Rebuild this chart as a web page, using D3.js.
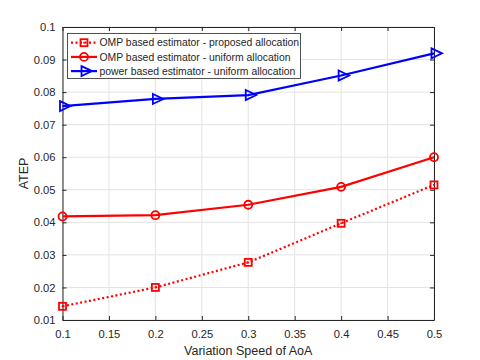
<!DOCTYPE html>
<html>
<head>
<meta charset="utf-8">
<script src="https://cdn.jsdelivr.net/npm/d3@7"></script>
<style>
  body { margin: 0; background: #fff; }
  svg { display: block; font-family: "Liberation Sans", Arial, sans-serif; }
</style>
</head>
<body>
<div id="chart"></div>
<script>
// data
const speeds = [0.1, 0.2, 0.3, 0.4, 0.5];
const ompProposed = [0.0142, 0.0200, 0.0277, 0.0397, 0.0515];
const ompUniform = [0.0418, 0.0422, 0.0454, 0.0509, 0.0600];
const powerUniform = [0.0757, 0.0779, 0.0791, 0.0851, 0.0919];
const xTicks = [0.1, 0.15, 0.2, 0.25, 0.3, 0.35, 0.4, 0.45, 0.5];
const yTicks = [0.01, 0.02, 0.03, 0.04, 0.05, 0.06, 0.07, 0.08, 0.09, 0.1];
const legendLabels = [
    "OMP based estimator - proposed allocation",
    "OMP based estimator - uniform allocation",
    "power based estimator - uniform allocation"
];

const width = 480, height = 360;
const margin = { left: 62.5, right: 46, top: 27, bottom: 40 };

const svg = d3.select("#chart").append("svg")
    .attr("width", width)
    .attr("height", height);

const x = d3.scaleLinear().domain([0.1, 0.5]).range([margin.left, width - margin.right]);
const y = d3.scaleLinear().domain([0.01, 0.1]).range([height - margin.bottom, margin.top]);

const axisColor = "#262626";

// grid
const grid = svg.append("g");
grid.selectAll(".gx").data(xTicks).enter().append("line")
    .attr("x1", d => x(d)).attr("x2", d => x(d))
    .attr("y1", y(0.01)).attr("y2", y(0.1))
    .attr("stroke", "#e3e3e3").attr("stroke-width", 1);
grid.selectAll(".gy").data(yTicks).enter().append("line")
    .attr("y1", d => y(d)).attr("y2", d => y(d))
    .attr("x1", x(0.1)).attr("x2", x(0.5))
    .attr("stroke", "#e3e3e3").attr("stroke-width", 1);

// axes (ticks inward, box on all sides)
const fmt = d => String(+d.toFixed(2));
const axBottom = svg.append("g").attr("transform", `translate(0,${y(0.01)})`)
    .call(d3.axisBottom(x).tickValues(xTicks).tickFormat(fmt).tickSizeInner(-4).tickSizeOuter(0).tickPadding(10));
const axLeft = svg.append("g").attr("transform", `translate(${x(0.1)},0)`)
    .call(d3.axisLeft(y).tickValues(yTicks).tickFormat(fmt).tickSizeInner(-4).tickSizeOuter(0).tickPadding(7));
const axTop = svg.append("g").attr("transform", `translate(0,${y(0.1)})`)
    .call(d3.axisTop(x).tickValues(xTicks).tickFormat("").tickSizeInner(-4).tickSizeOuter(0));
const axRight = svg.append("g").attr("transform", `translate(${x(0.5)},0)`)
    .call(d3.axisRight(y).tickValues(yTicks).tickFormat("").tickSizeInner(-4).tickSizeOuter(0));

[axBottom, axLeft, axTop, axRight].forEach(g => {
    g.select(".domain").attr("stroke", axisColor).attr("stroke-width", 1);
    g.selectAll(".tick line").attr("stroke", axisColor);
    g.selectAll("text").attr("fill", axisColor)
        .style("font-family", "'Liberation Sans', Arial, sans-serif").style("font-size", "11.2px");
});

svg.append("text")
    .attr("x", (x(0.1) + x(0.5)) / 2).attr("y", 355)
    .attr("text-anchor", "middle").attr("fill", axisColor)
    .style("font-size", "12.5px").text("Variation Speed of AoA");
svg.append("text")
    .attr("transform", `translate(28,${(y(0.01) + y(0.1)) / 2}) rotate(-90)`)
    .attr("text-anchor", "middle").attr("fill", axisColor)
    .style("font-size", "12.5px").text("ATEP");

// series
const series = [
    { values: ompProposed, color: "#ff0000", dash: "2,2.5", marker: "square" },
    { values: ompUniform, color: "#ff0000", dash: null, marker: "circle" },
    { values: powerUniform, color: "#0000ff", dash: null, marker: "triangle" }
];

function drawMarker(g, type, color) {
    if (type === "square") {
        g.append("rect").attr("x", -3.5).attr("y", -3.5).attr("width", 7).attr("height", 7)
            .attr("fill", "none").attr("stroke", color).attr("stroke-width", 1.8);
        g.append("rect").attr("x", -0.8).attr("y", -0.8).attr("width", 1.6).attr("height", 1.6)
            .attr("fill", color);
    } else if (type === "circle") {
        g.append("circle").attr("r", 4).attr("fill", "none").attr("stroke", color).attr("stroke-width", 1.8);
    } else {
        g.append("path").attr("d", "M-2.5,-5L8,0L-2.5,5Z")
            .attr("fill", "none").attr("stroke", color).attr("stroke-width", 1.8);
    }
}

const line = d3.line().x((d, i) => x(speeds[i])).y(d => y(d));

series.forEach(s => {
    svg.append("path").datum(s.values)
        .attr("d", line)
        .attr("fill", "none")
        .attr("stroke", s.color)
        .attr("stroke-width", 2.2)
        .attr("stroke-dasharray", s.dash);
    s.values.forEach((v, i) => {
        const g = svg.append("g").attr("transform", `translate(${x(speeds[i])},${y(v)})`);
        drawMarker(g, s.marker, s.color);
    });
});

// legend
const legend = svg.append("g");
legend.append("rect")
    .attr("x", 67.5).attr("y", 33.5).attr("width", 233).attr("height", 45)
    .attr("fill", "#fff").attr("stroke", axisColor).attr("stroke-width", 0.8);
series.forEach((s, i) => {
    const ly = 42.7 + i * 14.2;
    legend.append("line")
        .attr("x1", 71).attr("x2", 97).attr("y1", ly).attr("y2", ly)
        .attr("stroke", s.color).attr("stroke-width", 2.2)
        .attr("stroke-dasharray", s.dash);
    drawMarker(legend.append("g").attr("transform", `translate(84,${ly})`), s.marker, s.color);
    legend.append("text")
        .attr("x", 99.5).attr("y", ly + 3.7)
        .attr("fill", axisColor)
        .style("font-size", "10.4px")
        .text(legendLabels[i]);
});
</script>
</body>
</html>
